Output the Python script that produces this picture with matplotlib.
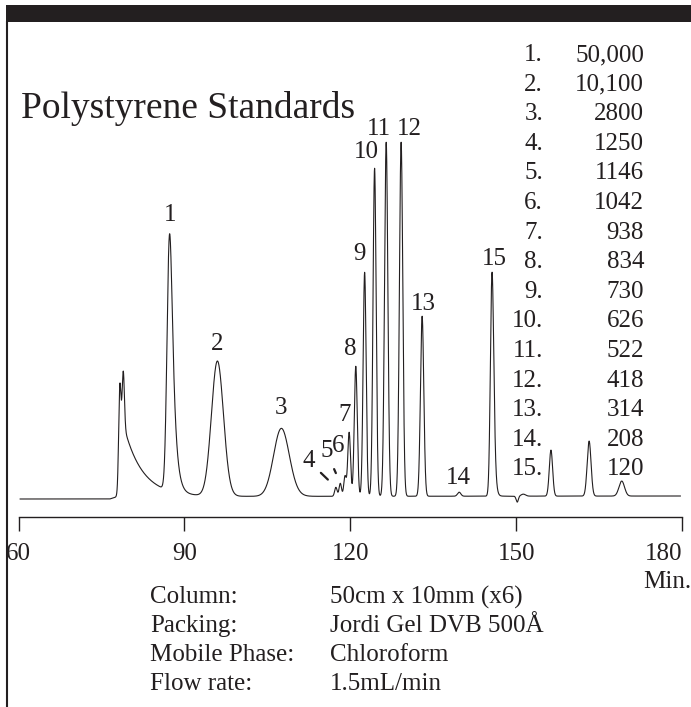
import numpy as np
import matplotlib
import matplotlib.pyplot as plt
from matplotlib.patches import Rectangle
from matplotlib.lines import Line2D

matplotlib.use("Agg")

INK = '#231f20'
W_PX, H_PX = 691, 707

# Standards list (peak number -> molecular weight)
STD_LABELS = ["1", "2", "3", "4", "5", "6", "7", "8", "9", "10", "11", "12", "13", "14", "15"]
STD_MW = ["50,000", "10,100", "2800", "1250", "1146", "1042", "938", "834",
          "730", "626", "522", "418", "314", "208", "120"]

# Peak table: retention time [min], height, sigma [min], tail tau [min]
STD_TIME = [87.0, 95.7, 107.1, 117.4, 118.2, 119.05, 119.8, 121.0,
            122.6, 124.4, 126.5, 129.2, 133.0, 139.7, 145.5]
STD_HEIGHT = [257, 135, 68, 9, 13, 20, 64, 130, 224, 328, 354, 354, 180, 4, 224]
STD_SIGMA = [0.38, 1.05, 1.35, 0.22, 0.22, 0.22, 0.25, 0.27,
             0.27, 0.28, 0.3, 0.3, 0.3, 0.3, 0.27]
STD_TAU = [0.6, 0.3, 0.5, 0, 0, 0, 0, 0, 0, 0, 0, 0, 0, 0, 0.2]

# Unlabelled peaks (split exclusion peak with its tail, system peaks at the end)
OTHER_TIME = [78.3, 78.95, 78.4, 150.2, 151.3, 156.3, 163.2, 169.1]
OTHER_HEIGHT = [80, 55, 70, -6, 2, 46, 55, 15]
OTHER_SIGMA = [0.2, 0.2, 0.3, 0.2, 0.4, 0.3, 0.35, 0.5]
OTHER_TAU = [0, 0, 3.3, 0, 0, 0, 0, 0]

# Baseline drift
BASE_TIME = [60, 76.5, 78, 180]
BASE_LEVEL = [0, 0, 2.5, 3]

TICKS = [60, 90, 120, 150, 180]

CONDITIONS = ["Column:", "Packing:", "Mobile Phase:", "Flow rate:"]
CONDITION_VALUES = ["50cm x 10mm (x6)", "Jordi Gel DVB 500\u00c5", "Chloroform", "1.5mL/min"]

# label offsets from peak top, in pixels (layout only)
LABEL_OFFSETS = [(0, 19), (0, 17), (0, 20), (-27, 26), (-14, 32), (-7, 30), (-4, 17),
                 (-6, 17), (-5, 18), (-8, 16), (-7, 13), (8, 13), (1, 12), (-1, 14), (2, 13)]


def FX(x):
    return x / W_PX


def FY(y):
    return 1 - y / H_PX


# Gaussian, optionally convolved with an exponential tail, scaled to max 1
def PeakShape(t, mu, sigma, tau):
    g = np.exp(-0.5 * ((t - mu) / sigma) ** 2)
    if tau > 0:
        dt = t[1] - t[0]
        k = np.exp(-np.arange(0, 10 * tau, dt) / tau)
        g = np.convolve(g, k)[:len(t)]
    return g / g.max()


def BuildTrace(t):
    y = np.interp(t, BASE_TIME, BASE_LEVEL)
    shapes = []
    for mu, h, s, tau in zip(STD_TIME, STD_HEIGHT, STD_SIGMA, STD_TAU):
        shp = PeakShape(t, mu, s, tau)
        shapes.append(shp)
        y = y + h * shp
    for mu, h, s, tau in zip(OTHER_TIME, OTHER_HEIGHT, OTHER_SIGMA, OTHER_TAU):
        y = y + h * PeakShape(t, mu, s, tau)
    return y, shapes


if __name__ == "__main__":
    plt.rcParams['font.family'] = ['Liberation Serif', 'DejaVu Serif']

    fig = plt.figure(figsize=(6.91, 7.07), dpi=100)
    ax = fig.add_axes([FX(18.5), FY(517), FX(663.5), (517 - 22) / H_PX])
    ax.patch.set_alpha(0)

    t = np.linspace(60.3, 179.7, 12000)
    trace, shapes = BuildTrace(t)
    ax.plot(t, trace, color=INK, lw=0.8)

    # peak numbers
    for i, lab in enumerate(STD_LABELS):
        idx = np.argmax(shapes[i])
        dx, dy = LABEL_OFFSETS[i]
        ax.annotate(lab, xy=(t[idx], trace[idx]), xytext=(dx, dy),
                    textcoords='offset pixels', ha='center', va='center',
                    fontsize=18, color=INK)

    # leader marks for the small peaks 4 and 5
    for i, sa, sb in [(3, 12, 8), (4, 14, 8)]:
        idx = np.argmax(shapes[i])
        dx, dy = LABEL_OFFSETS[i]
        ax.annotate('', xy=(t[idx], trace[idx]), xytext=(dx, dy),
                    textcoords='offset pixels',
                    arrowprops=dict(arrowstyle='-', color=INK, lw=1.6,
                                    shrinkA=sa, shrinkB=sb))

    ax.set_xlim(60, 180)
    ax.set_ylim(-18, 477)
    for side in ['left', 'right', 'top']:
        ax.spines[side].set_visible(False)
    ax.spines['bottom'].set_color(INK)
    ax.spines['bottom'].set_linewidth(1.0)
    ax.set_yticks([])
    ax.set_xticks(TICKS)
    ax.set_xticklabels([str(v) for v in TICKS])
    ax.tick_params(axis='x', direction='out', length=10, width=1.0, pad=9,
                   labelsize=18, colors=INK)
    ax.get_xticklabels()[-1].set_ha('right')

    # frame: top bar and left rule
    fig.add_artist(Rectangle((FX(6), FY(22)), 1, 17 / H_PX, transform=fig.transFigure,
                             color=INK, lw=0))
    fig.add_artist(Line2D([FX(7), FX(7)], [0, FY(22)], transform=fig.transFigure,
                          color=INK, lw=1.5))

    fig.text(FX(21), FY(108), "Polystyrene Standards", fontsize=27, color=INK,
             ha='left', va='center')

    # standards table
    for i, (lab, mw) in enumerate(zip(STD_LABELS, STD_MW)):
        y = 55 + i * 29.6
        fig.text(FX(543), FY(y), lab + ".", fontsize=18, color=INK, ha='right', va='center')
        fig.text(FX(644), FY(y), mw, fontsize=18, color=INK, ha='right', va='center')

    fig.text(FX(643), FY(582), "Min.", fontsize=18, color=INK, ha='left', va='center')

    # run conditions
    for i, (k, v) in enumerate(zip(CONDITIONS, CONDITION_VALUES)):
        y = 597 + i * 29
        fig.text(FX(150), FY(y), k, fontsize=18, color=INK, ha='left', va='center')
        fig.text(FX(330), FY(y), v, fontsize=18, color=INK, ha='left', va='center')

    fig.savefig("out.png", dpi=100)
